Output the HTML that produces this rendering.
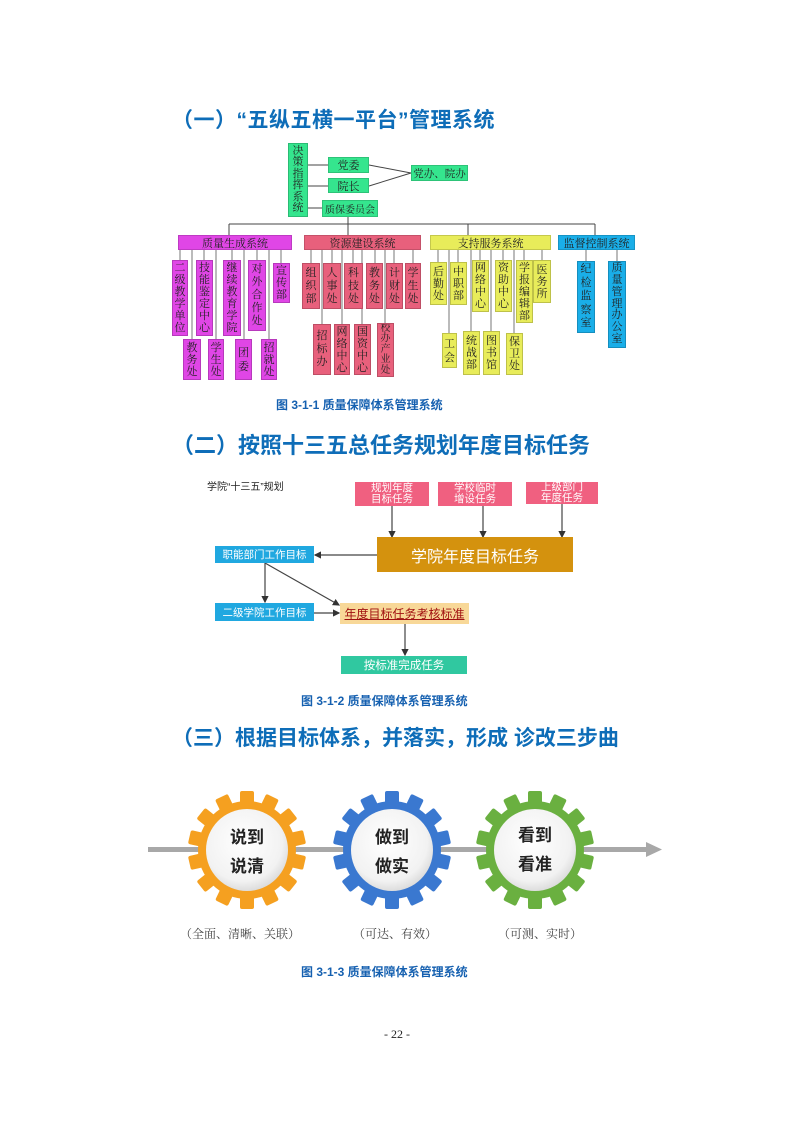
<!DOCTYPE html>
<html><head><meta charset="utf-8"><style>
*{margin:0;padding:0;box-sizing:border-box}
body{width:793px;height:1122px;background:#fff;position:relative;overflow:hidden;font-family:"Liberation Serif","Noto Serif CJK SC",serif}
.a{position:absolute}
.h{position:absolute;left:172px;color:#0e6db8;font-family:"Liberation Sans","Noto Sans CJK SC",sans-serif;font-weight:bold;font-size:21px;white-space:nowrap}
.cap{position:absolute;color:#1560b0;font-family:"Liberation Sans","Noto Sans CJK SC",sans-serif;font-weight:bold;font-size:12px;white-space:nowrap}
.b{position:absolute;display:flex;align-items:center;justify-content:center;text-align:center;font-size:11px;color:#222;border:1px solid rgba(0,0,0,.15);white-space:nowrap}
.v{position:absolute;display:flex;flex-direction:column;justify-content:center;font-size:11px;line-height:12px;text-align:center;color:#222;word-break:break-all;border:1px solid rgba(0,0,0,.18);overflow:hidden}
.g{background:#35e58e}.m{background:#e046e6}.r{background:#e8607c}.y{background:#e8ec5a}.bl{background:#1aaee8}
.s{font-family:"Liberation Sans","Noto Sans CJK SC",sans-serif}
</style></head><body>
<div class="h" style="top:104px;letter-spacing:0.5px">（一）“五纵五横一平台”管理系统</div>

<svg class="a" style="left:0;top:0" width="793" height="400">
<g stroke="#444" stroke-width="1" fill="none">
<line x1="308" y1="165" x2="328" y2="165"/><line x1="308" y1="186" x2="328" y2="186"/><line x1="308" y1="208" x2="322" y2="208"/>
<line x1="369" y1="165" x2="411" y2="173"/><line x1="369" y1="186" x2="411" y2="173"/>
<line x1="348" y1="217" x2="348" y2="235"/>
<line x1="229" y1="224" x2="595" y2="224"/>
<line x1="229" y1="224" x2="229" y2="235"/><line x1="468" y1="224" x2="468" y2="235"/><line x1="595" y1="224" x2="595" y2="235"/>
</g>
<g stroke="#777" stroke-width="1">
<line x1="180" y1="250" x2="180" y2="260"/><line x1="192" y1="250" x2="192" y2="339"/><line x1="204" y1="250" x2="204" y2="260"/><line x1="216" y1="250" x2="216" y2="339"/><line x1="232" y1="250" x2="232" y2="260"/><line x1="244" y1="250" x2="244" y2="339"/><line x1="257" y1="250" x2="257" y2="260"/><line x1="269" y1="250" x2="269" y2="339"/><line x1="281" y1="250" x2="281" y2="263"/>
<line x1="311" y1="250" x2="311" y2="263"/><line x1="322" y1="250" x2="322" y2="324"/><line x1="332" y1="250" x2="332" y2="263"/><line x1="342" y1="250" x2="342" y2="324"/><line x1="353" y1="250" x2="353" y2="263"/><line x1="362" y1="250" x2="362" y2="324"/><line x1="375" y1="250" x2="375" y2="263"/><line x1="385" y1="250" x2="385" y2="324"/><line x1="394" y1="250" x2="394" y2="263"/><line x1="413" y1="250" x2="413" y2="263"/>
<line x1="438" y1="250" x2="438" y2="262"/><line x1="449" y1="250" x2="449" y2="333"/><line x1="458" y1="250" x2="458" y2="262"/><line x1="471" y1="250" x2="471" y2="331"/><line x1="480" y1="250" x2="480" y2="260"/><line x1="491" y1="250" x2="491" y2="331"/><line x1="503" y1="250" x2="503" y2="260"/><line x1="514" y1="250" x2="514" y2="333"/><line x1="524" y1="250" x2="524" y2="260"/><line x1="542" y1="250" x2="542" y2="260"/>
<line x1="586" y1="250" x2="586" y2="261"/><line x1="617" y1="250" x2="617" y2="261"/>
</g>
</svg>

<div class="v g" style="left:288px;top:143px;width:20px;height:74px;line-height:11.5px">决策指挥系统</div>
<div class="b g" style="left:328px;top:157px;width:41px;height:16px">党委</div>
<div class="b g" style="left:328px;top:178px;width:41px;height:15px">院长</div>
<div class="b g" style="left:411px;top:165px;width:57px;height:16px;font-size:10.5px">党办、院办</div>
<div class="b g" style="left:322px;top:200px;width:56px;height:17px;font-size:10px">质保委员会</div>

<div class="b m" style="left:178px;top:235px;width:114px;height:15px">质量生成系统</div>
<div class="b r" style="left:304px;top:235px;width:117px;height:15px">资源建设系统</div>
<div class="b y" style="left:430px;top:235px;width:121px;height:15px">支持服务系统</div>
<div class="b bl" style="left:558px;top:235px;width:77px;height:15px">监督控制系统</div>

<div class="v m" style="left:172px;top:260px;width:16px;height:76px">二级教学单位</div>
<div class="v m" style="left:196px;top:260px;width:17px;height:76px">技能鉴定中心</div>
<div class="v m" style="left:223px;top:260px;width:18px;height:76px">继续教育学院</div>
<div class="v m" style="left:248px;top:260px;width:18px;height:71px;line-height:13px">对外合作处</div>
<div class="v m" style="left:273px;top:263px;width:17px;height:40px">宣传部</div>
<div class="v m" style="left:183px;top:339px;width:18px;height:41px">教务处</div>
<div class="v m" style="left:208px;top:339px;width:16px;height:41px">学生处</div>
<div class="v m" style="left:235px;top:339px;width:17px;height:41px;line-height:14px">团委</div>
<div class="v m" style="left:261px;top:339px;width:16px;height:41px">招就处</div>

<div class="v r" style="left:302px;top:263px;width:18px;height:46px;line-height:13px">组织部</div>
<div class="v r" style="left:323px;top:263px;width:18px;height:46px;line-height:13px">人事处</div>
<div class="v r" style="left:344px;top:263px;width:19px;height:46px;line-height:13px">科技处</div>
<div class="v r" style="left:366px;top:263px;width:17px;height:46px;line-height:13px">教务处</div>
<div class="v r" style="left:386px;top:263px;width:17px;height:46px;line-height:13px">计财处</div>
<div class="v r" style="left:405px;top:263px;width:16px;height:46px;line-height:13px">学生处</div>
<div class="v r" style="left:313px;top:324px;width:18px;height:51px;line-height:13px">招标办</div>
<div class="v r" style="left:334px;top:324px;width:16px;height:51px">网络中心</div>
<div class="v r" style="left:354px;top:324px;width:17px;height:51px">国资中心</div>
<div class="v r" style="left:377px;top:323px;width:17px;height:54px;line-height:10.4px;font-size:10px">校办产业处</div>

<div class="v y" style="left:430px;top:262px;width:17px;height:43px">后勤处</div>
<div class="v y" style="left:450px;top:262px;width:17px;height:43px">中职部</div>
<div class="v y" style="left:472px;top:260px;width:17px;height:52px">网络中心</div>
<div class="v y" style="left:495px;top:260px;width:17px;height:52px">资助中心</div>
<div class="v y" style="left:516px;top:260px;width:17px;height:63px">学报编辑部</div>
<div class="v y" style="left:533px;top:260px;width:18px;height:43px">医务所</div>
<div class="v y" style="left:442px;top:333px;width:15px;height:35px;line-height:14px">工会</div>
<div class="v y" style="left:463px;top:331px;width:17px;height:44px">统战部</div>
<div class="v y" style="left:483px;top:331px;width:17px;height:44px">图书馆</div>
<div class="v y" style="left:506px;top:333px;width:17px;height:42px">保卫处</div>

<div class="v bl" style="left:577px;top:261px;width:18px;height:72px;line-height:13.5px">纪检监察室</div>
<div class="v bl" style="left:608px;top:261px;width:18px;height:87px;line-height:11.8px">质量管理办公室</div>

<div class="cap" style="left:276px;top:396px">图 3-1-1 质量保障体系管理系统</div>

<div class="h" style="top:428px;font-size:22px">（二）按照十三五总任务规划年度目标任务</div>

<div class="a s" style="left:207px;top:478px;font-size:10px;color:#222">学院“十三五”规划</div>
<svg class="a" style="left:0;top:0" width="793" height="700">
<defs><marker id="ar" markerWidth="6" markerHeight="6" refX="5" refY="3" orient="auto"><path d="M0,0 L6,3 L0,6 z" fill="#333"/></marker></defs>
<g stroke="#444" stroke-width="1.2" fill="none" marker-end="url(#ar)">
<line x1="392" y1="506" x2="392" y2="537"/>
<line x1="483" y1="506" x2="483" y2="537"/>
<line x1="562" y1="504" x2="562" y2="537"/>
<line x1="377" y1="555" x2="315" y2="555"/>
<line x1="265" y1="563" x2="265" y2="602"/>
<line x1="265" y1="563" x2="339" y2="605"/>
<line x1="314" y1="613" x2="339" y2="613"/>
<line x1="405" y1="624" x2="405" y2="655"/>
</g>
</svg>
<div class="b s" style="left:355px;top:482px;width:74px;height:24px;background:#f06080;color:#fff;line-height:11px;font-size:10.5px;border:none">规划年度<br>目标任务</div>
<div class="b s" style="left:438px;top:482px;width:74px;height:24px;background:#f06080;color:#fff;line-height:11px;font-size:10.5px;border:none">学校临时<br>增设任务</div>
<div class="b s" style="left:526px;top:482px;width:72px;height:22px;background:#f06080;color:#fff;line-height:11px;font-size:10.5px;border:none">上级部门<br>年度任务</div>
<div class="b s" style="left:377px;top:537px;width:196px;height:35px;background:#d4920e;color:#fff;font-size:16px;border:none">学院年度目标任务</div>
<div class="b s" style="left:215px;top:546px;width:99px;height:17px;background:#20a8e0;color:#fff;font-size:10.5px;border:none">职能部门工作目标</div>
<div class="b s" style="left:215px;top:603px;width:99px;height:18px;background:#20a8e0;color:#fff;font-size:10.5px;border:none">二级学院工作目标</div>
<div class="b s" style="left:340px;top:603px;width:129px;height:21px;background:#f8d898;color:#a01010;font-size:12px;text-decoration:underline;border:none">年度目标任务考核标准</div>
<div class="b s" style="left:341px;top:656px;width:126px;height:18px;background:#30c8a0;color:#fff;font-size:11.5px;border:none">按标准完成任务</div>

<div class="cap" style="left:301px;top:692px">图 3-1-2 质量保障体系管理系统</div>

<div class="h" style="top:722px;font-size:21px">（三）根据目标体系，并落实，形成 诊改三步曲</div>

<svg class="a" style="left:0;top:780px" width="793" height="170">
<defs>
<radialGradient id="wg" cx="45%" cy="40%" r="60%"><stop offset="0" stop-color="#fff"/><stop offset="0.8" stop-color="#f2f2f2"/><stop offset="1" stop-color="#ddd"/></radialGradient>
<g id="gear">
<circle r="49"/>
<g>
<rect x="-7" y="-59" width="14" height="14" rx="2"/>
<rect x="-7" y="-59" width="14" height="14" rx="2" transform="rotate(25.7)"/>
<rect x="-7" y="-59" width="14" height="14" rx="2" transform="rotate(51.4)"/>
<rect x="-7" y="-59" width="14" height="14" rx="2" transform="rotate(77.1)"/>
<rect x="-7" y="-59" width="14" height="14" rx="2" transform="rotate(102.8)"/>
<rect x="-7" y="-59" width="14" height="14" rx="2" transform="rotate(128.5)"/>
<rect x="-7" y="-59" width="14" height="14" rx="2" transform="rotate(154.2)"/>
<rect x="-7" y="-59" width="14" height="14" rx="2" transform="rotate(180)"/>
<rect x="-7" y="-59" width="14" height="14" rx="2" transform="rotate(205.7)"/>
<rect x="-7" y="-59" width="14" height="14" rx="2" transform="rotate(231.4)"/>
<rect x="-7" y="-59" width="14" height="14" rx="2" transform="rotate(257.1)"/>
<rect x="-7" y="-59" width="14" height="14" rx="2" transform="rotate(282.8)"/>
<rect x="-7" y="-59" width="14" height="14" rx="2" transform="rotate(308.5)"/>
<rect x="-7" y="-59" width="14" height="14" rx="2" transform="rotate(334.2)"/>
</g>
</g>
</defs>
<rect x="148" y="67" width="500" height="5" fill="#a8a8a8"/>
<path d="M646,62 L662,69.5 L646,77 z" fill="#a8a8a8"/>
<use href="#gear" x="247" y="70" fill="#f5a020"/>
<use href="#gear" x="392" y="70" fill="#3a78d0"/>
<use href="#gear" x="535" y="70" fill="#6ab040"/>
<circle cx="247" cy="70" r="41" fill="url(#wg)"/>
<circle cx="392" cy="70" r="41" fill="url(#wg)"/>
<circle cx="535" cy="70" r="41" fill="url(#wg)"/>
<g font-family="Liberation Sans,Noto Sans CJK SC,sans-serif" font-size="17" font-weight="bold" fill="#222" text-anchor="middle">
<text x="247" y="63">说到</text><text x="247" y="92">说清</text>
<text x="392" y="63">做到</text><text x="392" y="92">做实</text>
<text x="535" y="61">看到</text><text x="535" y="90">看准</text>
</g>
<g font-family="Liberation Serif,Noto Serif CJK SC,serif" font-size="12" fill="#444" text-anchor="middle">
<text x="240" y="158">（全面、清晰、关联）</text>
<text x="395" y="158">（可达、有效）</text>
<text x="540" y="158">（可测、实时）</text>
</g>
</svg>

<div class="cap" style="left:301px;top:963px">图 3-1-3 质量保障体系管理系统</div>
<div class="a" style="left:384px;top:1027px;font-size:12px;color:#222">- 22 -</div>
</body></html>
